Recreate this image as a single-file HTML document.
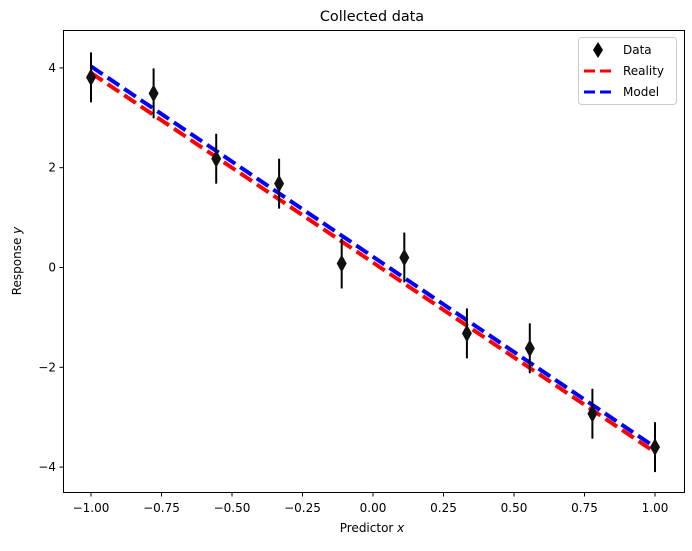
<!DOCTYPE html>
<html><head><meta charset="utf-8"><style>
body{margin:0;background:#fff;font-family:"Liberation Sans","DejaVu Sans",sans-serif;}
svg text{font-family:"DejaVu Sans","Liberation Sans",sans-serif;font-size:12px;fill:#000;}
</style></head><body>
<svg id="chart" width="692" height="546" viewBox="0 0 692 546">
<rect x="0" y="0" width="692" height="546" fill="#fff"/>
<text x="372" y="21" text-anchor="middle" style="font-size:14.4px">Collected data</text>
<g id="plot"></g>
<rect x="63.5" y="30.5" width="621" height="462" fill="none" stroke="#000" stroke-width="1"/>
<text x="372" y="532" text-anchor="middle">Predictor <tspan font-style="italic">x</tspan></text>
<text transform="translate(21,261) rotate(-90)" text-anchor="middle">Response <tspan font-style="italic">y</tspan></text>
<g>
<rect x="578.5" y="37.5" width="98" height="67" rx="3" fill="#fff" stroke="#ccc"/>
<path d="M598,42 L603,50 L598,58 L593,50 Z" fill="#000"/>
<text x="623" y="54">Data</text>
<line x1="584" y1="71" x2="612" y2="71" stroke="#f00" stroke-width="3" stroke-dasharray="11,5"/>
<text x="623" y="75">Reality</text>
<line x1="584" y1="92" x2="612" y2="92" stroke="#00f" stroke-width="3" stroke-dasharray="11,5"/>
<text x="623" y="96">Model</text>
</g>
</svg>
<script>
const xData = [-1, -0.778, -0.556, -0.333, -0.111, 0.111, 0.333, 0.556, 0.778, 1];
const yData = [3.81, 3.49, 2.18, 1.68, 0.08, 0.2, -1.32, -1.62, -2.93, -3.6];
const yErr = [0.5, 0.5, 0.5, 0.5, 0.5, 0.5, 0.5, 0.5, 0.5, 0.5];
const realityX = [-1, 1];
const realityY = [3.9, -3.7];
const modelX = [-1, 1];
const modelY = [4.03, -3.6];
const xTicks = [-1, -0.75, -0.5, -0.25, 0, 0.25, 0.5, 0.75, 1];
const xTickLabels = ["\u22121.00","\u22120.75","\u22120.50","\u22120.25","0.00","0.25","0.50","0.75","1.00"];
const yTicks = [-4, -2, 0, 2, 4];
const yTickLabels = ["\u22124","\u22122","0","2","4"];

const NS="http://www.w3.org/2000/svg";
const g=document.getElementById('plot');
function X(v){return 373+v*282;}
function Y(v){return 267.5-v*49.9;}
function mk(tag,attrs){const e=document.createElementNS(NS,tag);for(const k in attrs)e.setAttribute(k,attrs[k]);g.appendChild(e);return e;}

xTicks.forEach((t,i)=>{
  const l=mk('line',{x1:X(t),x2:X(t),y1:492.5,y2:496.5,stroke:'#000'});
  
  
  const tx=mk('text',{x:X(t),y:512,'text-anchor':'middle'});tx.textContent=xTickLabels[i];
  
  
});
yTicks.forEach((t,i)=>{
  const l=mk('line',{x1:59.5,x2:63.5,y1:Y(t),y2:Y(t),stroke:'#000'});
  
  
  const tx=mk('text',{x:56,y:Y(t)+4,'text-anchor':'end'});tx.textContent=yTickLabels[i];
  
  
});
const rl=mk('line',{x1:X(realityX[0]),y1:Y(realityY[0]),x2:X(realityX[1]),y2:Y(realityY[1]),stroke:'#f00','stroke-width':4,'stroke-dasharray':'14,6'});


const ml=mk('line',{x1:X(modelX[0]),y1:Y(modelY[0]),x2:X(modelX[1]),y2:Y(modelY[1]),stroke:'#00f','stroke-width':4,'stroke-dasharray':'14,6'});


xData.forEach((x,i)=>{
  const cx=X(x),cy=Y(yData[i]);
  const eb=mk('line',{x1:cx,x2:cx,y1:Y(yData[i]+yErr[i]),y2:Y(yData[i]-yErr[i]),stroke:'#000','stroke-width':2});
  
  
  const p=mk('path',{d:`M${cx},${cy-9} L${cx+5},${cy} L${cx},${cy+9} L${cx-5},${cy} Z`,fill:'#111'});
  
  
});
</script>
</body></html>
